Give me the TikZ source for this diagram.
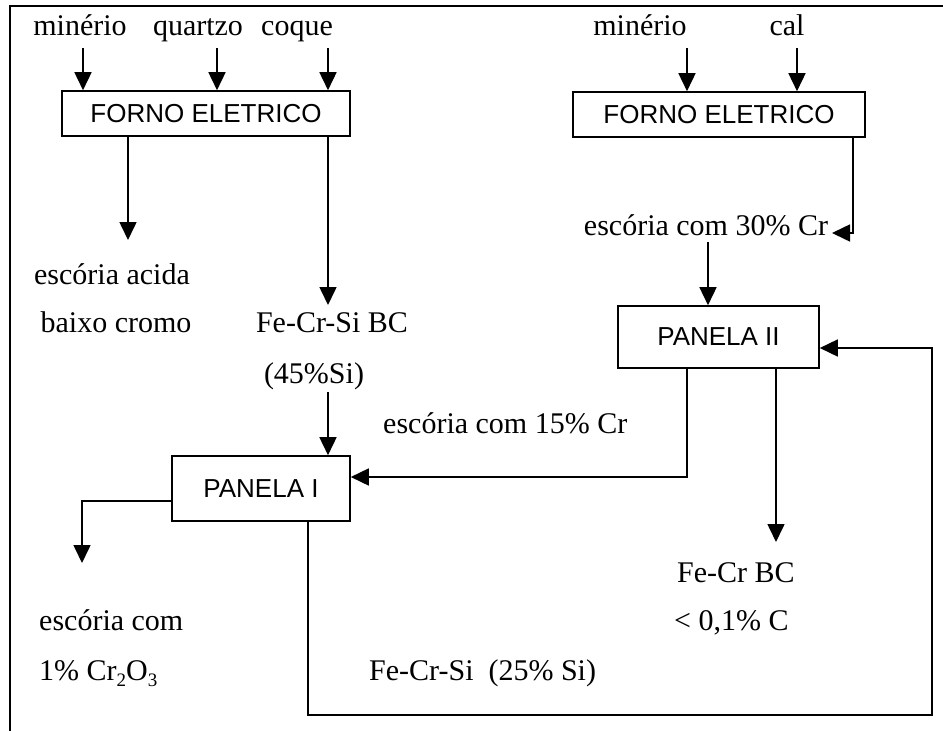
\documentclass[tikz,border=0pt]{standalone}
\usepackage{fontspec}
\setmainfont{Liberation Serif}
\newfontfamily\arialf{Liberation Sans}
\usetikzlibrary{arrows.meta}
\newcommand{\subx}[1]{\raisebox{-0.22em}{\fontsize{19}{19}\selectfont #1}}
\begin{document}
\begin{tikzpicture}[x=1pt,y=-1pt,
  lab/.style={font=\fontsize{30}{32}\selectfont, inner sep=0pt, anchor=base},
  labw/.style={lab, anchor=base west},
  box/.style={draw, line width=1.6pt, font=\arialf\fontsize{26}{30}\selectfont, inner sep=0pt},
  arr/.style={line width=1.6pt, -{Triangle[length=18pt,width=17pt]}},
  frame/.style={line width=2.5pt}]
\useasboundingbox (0,0) rectangle (943,731);
\draw[frame] (10,731) -- (10,6) -- (943,6);

% boxes
\node[box, minimum width=288pt, minimum height=45pt] (f1) at (206,113.5) {FORNO ELETRICO};
\node[box, minimum width=292pt, minimum height=45pt] (f2) at (719,114.5) {FORNO ELETRICO};
\node[box, minimum width=178pt, minimum height=65pt] (p1) at (261,488.5) {PANELA I};
\node[box, minimum width=201pt, minimum height=62pt] (p2) at (718.5,337) {PANELA II};

% labels
\node[lab] (m1) at (80,35) {minério};
\node[lab] (q1) at (198,35) {quartzo};
\node[lab] (c1) at (297,35) {coque};
\node[lab] (m2) at (640,35) {minério};
\node[lab] (cal) at (787,35) {cal};
\node[lab] (ea) at (112,284) {escória acida};
\node[lab] (bc) at (116,332) {baixo cromo};
\node[lab] (fcs) at (332,332) {Fe-Cr-Si BC};
\node[lab] (si45) at (314,383) {(45\%Si)};
\node[lab] (e30) at (706,235) {escória com 30\% Cr};
\node[labw] (e15) at (383,433) {escória com 15\% Cr};
\node[labw] (fcb) at (677,582) {Fe-Cr BC};
\node[labw] (c01) at (674,630) {< 0,1\% C};
\node[labw] (ec) at (39,630) {escória com};
\node[labw] (cro) at (39,680) {1\% Cr\subx{2}O\subx{3}};
\node[labw] (fcs25) at (369,680) {Fe-Cr-Si\ \ (25\% Si)};

% coordinates
\coordinate (a1) at (83,48);
\coordinate (a2) at (217,48);
\coordinate (a3) at (328,48);
\coordinate (a4) at (687,48);
\coordinate (a5) at (797,48);
\coordinate (e1) at (128,240);
\coordinate (e2) at (328,305);
\coordinate (s1) at (328,392);
\coordinate (e3) at (853,233);
\coordinate (t3) at (832,233);
\coordinate (s2) at (708,242);
\coordinate (k1) at (687,477);
\coordinate (e5) at (776,542);
\coordinate (k2) at (82,501);
\coordinate (e4) at (82,563);
\coordinate (k3) at (308,715);
\coordinate (k4) at (932,715);
\coordinate (k5) at (932,348);

% connectors
\draw[arr] (a1) -- (a1 |- f1.north);
\draw[arr] (a2) -- (a2 |- f1.north);
\draw[arr] (a3) -- (a3 |- f1.north);
\draw[arr] (a4) -- (a4 |- f2.north);
\draw[arr] (a5) -- (a5 |- f2.north);
\draw[arr] (f1.south -| e1) -- (e1);
\draw[arr] (f1.south -| e2) -- (e2);
\draw[arr] (s1) -- (s1 |- p1.north);
\draw[arr] (f2.south -| e3) -- (e3) -- (t3);
\draw[arr] (s2) -- (s2 |- p2.north);
\draw[arr] (p2.south -| k1) -- (k1) -- (k1 -| p1.east);
\draw[arr] (p2.south -| e5) -- (e5);
\draw[arr] (p1.west |- k2) -- (k2) -- (e4);
\draw[arr] (p1.south -| k3) -- (k3) -- (k4) -- (k5) -- (k5 -| p2.east);
\end{tikzpicture}
\end{document}
